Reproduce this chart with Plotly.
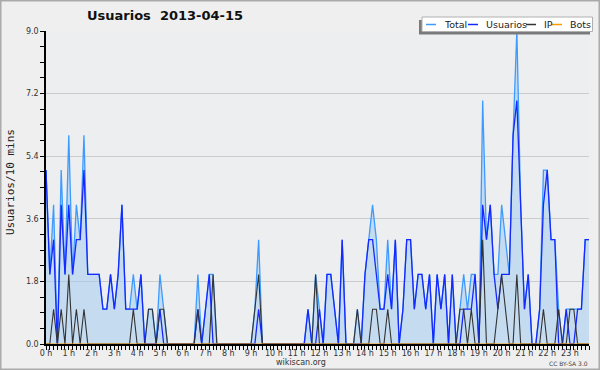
import plotly.graph_objects as go

# ---- data (10-minute slots, 6 per hour) ----
hour_labels = [f"{h} h" for h in range(24)]

total = [
    5, 2, 4, 0, 5, 2,   6, 2, 4, 3, 6, 2,   2, 2, 2, 1, 1, 2,   1, 2, 4, 1, 1, 2,
    1, 2, 0, 1, 1, 0,   2, 1, 0, 0, 0, 0,   0, 0, 0, 0, 2, 0,   1, 2, 2, 0, 0, 0,
    0, 0, 0, 0, 0, 0,   0, 1, 3, 0, 0, 0,   0, 0, 0, 0, 0, 0,   0, 0, 0, 1, 0, 2,
    1, 0, 2, 2, 1, 0,   3, 0, 0, 0, 1, 0,   2, 3, 4, 3, 1, 1,   3, 1, 3, 0, 1, 3,
    3, 1, 2, 2, 1, 2,   0, 2, 1, 2, 0, 2,   0, 1, 2, 1, 2, 2,   0, 7, 3, 4, 2, 2,
    4, 3, 2, 6, 9, 4,   1, 2, 0, 0, 1, 5,   5, 3, 3, 1, 0, 1,   1, 1, 1, 1, 3, 3,
]
usuarios = [
    5, 2, 3, 0, 4, 2,   4, 2, 3, 3, 5, 2,   2, 2, 2, 1, 1, 2,   1, 2, 4, 1, 1, 1,
    1, 2, 0, 0, 0, 0,   1, 0, 0, 0, 0, 0,   0, 0, 0, 0, 1, 0,   1, 2, 0, 0, 0, 0,
    0, 0, 0, 0, 0, 0,   0, 0, 1, 0, 0, 0,   0, 0, 0, 0, 0, 0,   0, 0, 0, 1, 0, 0,
    1, 0, 2, 2, 1, 0,   3, 0, 0, 0, 0, 0,   2, 3, 3, 2, 1, 1,   2, 1, 3, 0, 1, 3,
    3, 1, 2, 2, 1, 2,   0, 2, 1, 2, 0, 2,   0, 0, 1, 1, 1, 2,   0, 4, 3, 4, 2, 1,
    2, 2, 2, 6, 7, 4,   1, 2, 0, 0, 1, 4,   5, 3, 3, 0, 0, 1,   0, 0, 1, 1, 3, 3,
]
ip = [
    0, 0, 1, 0, 1, 0,   2, 0, 1, 0, 1, 0,   0, 0, 0, 0, 0, 0,   0, 0, 0, 0, 0, 1,
    0, 0, 0, 1, 1, 0,   1, 1, 0, 0, 0, 0,   0, 0, 0, 0, 1, 0,   0, 0, 2, 0, 0, 0,
    0, 0, 0, 0, 0, 0,   0, 1, 2, 0, 0, 0,   0, 0, 0, 0, 0, 0,   0, 0, 0, 0, 0, 2,
    0, 0, 0, 0, 0, 0,   0, 0, 0, 0, 1, 0,   0, 0, 1, 1, 0, 0,   1, 0, 0, 0, 0, 0,
    0, 0, 0, 0, 0, 0,   0, 0, 0, 0, 0, 0,   0, 1, 1, 0, 1, 0,   0, 3, 0, 0, 0, 1,
    2, 1, 0, 0, 2, 0,   0, 0, 0, 0, 0, 1,   0, 0, 0, 1, 0, 0,   1, 1, 0, 0, 0, 0,
]
bots = [0] * 144

slots = list(range(len(total)))

# ---- geometry helpers (pixel -> paper) ----
W, H = 600, 370
L, R, T, B = 46, 11, 31, 26
PW, PH = W - L - R, H - T - B


def px(x):
    return (x - L) / PW


def py(y):
    return (H - B - y) / PH


C_TOTAL = "#3d9bff"
C_USU = "#1428ff"
C_IP = "#333333"
C_BOTS = "#ff9900"
FONT = "DejaVu Sans"

fig = go.Figure()
fig.add_trace(go.Scatter(x=slots, y=total, mode="lines", name="Total",
                         line=dict(color=C_TOTAL, width=1.3),
                         fill="tozeroy", fillcolor="rgba(158,201,239,0.5)"))
fig.add_trace(go.Scatter(x=slots, y=usuarios, mode="lines", name="Usuarios",
                         line=dict(color=C_USU, width=1.3)))
fig.add_trace(go.Scatter(x=slots, y=ip, mode="lines", name="IP",
                         line=dict(color=C_IP, width=1.1)))
fig.add_trace(go.Scatter(x=slots, y=bots, mode="lines", name="Bots",
                         line=dict(color=C_BOTS, width=1)))

tickvals = slots
ticktext = [hour_labels[i // 6] if i % 6 == 0 else "" for i in slots]

fig.update_layout(
    width=W, height=H,
    margin=dict(l=L, r=R, t=T, b=B, pad=0, autoexpand=False),
    paper_bgcolor="#efefef",
    plot_bgcolor="#edeef0",
    showlegend=False,
    font=dict(family=FONT, size=8, color="#333"),
    xaxis=dict(range=[0, 143], tickmode="array", tickvals=tickvals, ticktext=ticktext,
               ticks="outside", ticklen=4, tickwidth=1, tickcolor="black",
               showline=True, linecolor="black", linewidth=1.5,
               showgrid=False, zeroline=False, automargin=False,
               ticklabelstandoff=-3,
               tickfont=dict(family=FONT, size=8, color="#333")),
    yaxis=dict(range=[0, 9], tickmode="linear", tick0=0, dtick=1.8, tickformat=".1f",
               ticks="outside", ticklen=4, tickwidth=1, tickcolor="black",
               showline=True, linecolor="black", linewidth=1.5,
               showgrid=True, gridcolor="#cccccc", gridwidth=1, zeroline=False,
               automargin=False,
               tickfont=dict(family=FONT, size=8, color="#333"),
               minor=dict(dtick=0.45, tick0=0, ticks="outside", ticklen=4,
                          tickcolor="black", showgrid=False)),
)

shapes = []
# outer border
shapes.append(dict(type="rect", xref="paper", yref="paper",
                   x0=px(0.5), x1=px(W - 0.5), y0=py(H - 0.5), y1=py(0.5),
                   line=dict(color="#aaaaaa", width=2), fillcolor="rgba(0,0,0,0)",
                   layer="above"))
# legend shadow + box
shapes.append(dict(type="rect", xref="paper", yref="paper",
                   x0=px(419), x1=px(590), y0=py(34.5), y1=py(20),
                   line=dict(width=0), fillcolor="#7a7a7a", layer="above"))
shapes.append(dict(type="rect", xref="paper", yref="paper",
                   x0=px(422), x1=px(592.5), y0=py(31.5), y1=py(17),
                   line=dict(color="#b0b0b0", width=1), fillcolor="white", layer="above"))

legend_items = [("Total", C_TOTAL, 426, 442), ("Usuarios", C_USU, 468, 484),
                ("IP", C_IP, 526, 542), ("Bots", C_BOTS, 552, 568)]
annotations = []
for name, col, lx, tx in legend_items:
    shapes.append(dict(type="line", xref="paper", yref="paper",
                       x0=px(lx), x1=px(lx + 10), y0=py(24.5), y1=py(24.5),
                       line=dict(color=col, width=1.5), layer="above"))
    annotations.append(dict(text=name, xref="paper", yref="paper", x=px(tx), y=py(24.5),
                            xanchor="left", yanchor="middle", showarrow=False,
                            font=dict(family=FONT, size=9.5, color="#222")))

annotations += [
    dict(text="<b>Usuarios  2013-04-15</b>", xref="paper", yref="paper",
         x=px(85), y=py(16), xanchor="left", yanchor="middle", showarrow=False,
         font=dict(family=FONT, size=13, color="#111")),
    dict(text="Usuarios/10 mins", xref="paper", yref="paper", x=px(10), y=py(182),
         xanchor="center", yanchor="middle", textangle=-90, showarrow=False,
         font=dict(family="DejaVu Sans Mono", size=11, color="#222")),
    dict(text="wikiscan.org", xref="paper", yref="paper", x=px(301), y=py(362),
         xanchor="center", yanchor="middle", showarrow=False,
         font=dict(family=FONT, size=8, color="#333")),
    dict(text="CC BY-SA 3.0", xref="paper", yref="paper", x=px(590), y=py(363.5),
         xanchor="right", yanchor="middle", showarrow=False,
         font=dict(family=FONT, size=6, color="#444")),
]

fig.update_layout(shapes=shapes, annotations=annotations)
fig.write_html("out.html", config={"displayModeBar": False},
               post_script="document.body.style.margin='0';")
